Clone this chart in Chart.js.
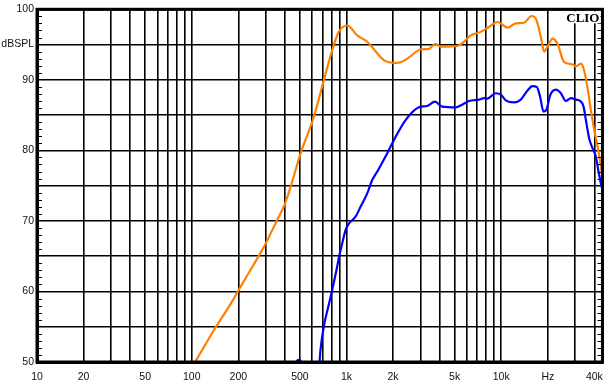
<!DOCTYPE html>
<html>
<head>
<meta charset="utf-8">
<script src="https://cdn.jsdelivr.net/npm/chart.js@4"></script>
<style>
  html, body { margin: 0; padding: 0; background: #fff; }
  #wrap { width: 612px; height: 389px; position: relative; }
</style>
</head>
<body>
<div id="wrap"><canvas id="resp"></canvas></div>
<script>
// orange trace (Hz / dBSPL)
const orangeHz = [100, 105, 138, 178, 201, 239, 292, 356, 403, 456, 500, 614, 713, 808, 891, 1011, 1172, 1361, 1743, 2075, 2238, 2471, 3013, 3412, 3767, 4057, 5200, 5739, 6350, 7365, 8337, 9443, 9931, 10965, 12417, 14060, 15680, 16710, 18020, 18930, 19900, 21450, 23100, 25500, 28900, 30350, 32700, 34050, 36140, 37950, 39900, 41970, 44060, 45400];
const orangeDb = [49.3, 50.0, 54.4, 58.2, 60.2, 63.0, 66.3, 70.1, 72.6, 76.3, 79.3, 84.7, 89.9, 94.2, 96.8, 97.7, 96.3, 95.4, 92.8, 92.4, 92.5, 93.0, 94.3, 94.4, 95.1, 94.7, 94.8, 95.4, 96.3, 96.8, 97.5, 98.2, 98.0, 97.4, 98.0, 98.1, 99.05, 98.7, 96.1, 94.0, 94.7, 95.85, 95.1, 92.5, 92.2, 91.9, 92.3, 91.6, 88.8, 85.7, 82.9, 80.5, 77.7, 75.8];

// blue trace
const blueHz = [440, 480, 495, 515, 560, 620, 669, 679, 713, 762, 808, 861, 901, 938, 986, 1035, 1144, 1233, 1362, 1466, 1581, 1834, 2075, 2409, 2939, 3327, 3730, 4160, 5080, 5610, 6190, 7180, 7740, 8140, 9210, 9930, 10690, 12100, 13370, 14790, 15920, 16980, 17830, 18750, 19630, 20700, 22540, 24280, 26140, 28180, 30350, 32360, 34040, 35240, 37000, 38920, 40900, 42360, 44060, 45190];
const blueDb = [47.5, 50.2, 50.3, 49.8, 47, 46, 49.9, 51.7, 55.0, 57.8, 60.2, 63.0, 65.2, 66.8, 68.7, 69.6, 70.6, 72.0, 73.9, 75.8, 77.0, 79.6, 81.9, 84.3, 86.1, 86.3, 86.9, 86.2, 86.1, 86.5, 87.0, 87.2, 87.4, 87.35, 88.1, 87.9, 87.1, 86.8, 87.2, 88.5, 89.1, 89.0, 87.6, 85.5, 85.8, 87.8, 88.6, 88.1, 87.0, 87.4, 87.2, 87.0, 86.2, 84.3, 81.7, 80.3, 79.1, 77.2, 75.3, 74.4];

// axis ticks
const xGrid = [10, 20, 30, 40, 50, 60, 70, 80, 90, 100, 200, 300, 400, 500, 600, 700, 800, 900,
  1000, 2000, 3000, 4000, 5000, 6000, 7000, 8000, 9000, 10000, 20000, 30000, 40000];
const xLabels = { 10: "10", 20: "20", 50: "50", 100: "100", 200: "200", 500: "500", 1000: "1k",
  2000: "2k", 5000: "5k", 10000: "10k", 20000: "Hz", 40000: "40k" };
const yLabels = { 100: "100", 95: "dBSPL", 90: "90", 80: "80", 70: "70", 60: "60", 50: "50" };

const pts = (xs, ys) => xs.map((x, i) => ({ x: x, y: ys[i] }));

const frame = {
  id: "frame",
  afterDatasetsDraw(chart) {
    const { ctx, chartArea: a, scales } = chart;
    ctx.save();
    ctx.strokeStyle = "#000";
    // minor ticks, 1 dB
    ctx.lineWidth = 1;
    for (let v = 51; v < 100; v++) {
      if (v % 5 === 0) continue;
      const y = Math.round(scales.y.getPixelForValue(v)) + 0.5;
      ctx.beginPath();
      ctx.moveTo(a.left, y); ctx.lineTo(a.left + 5, y);
      ctx.moveTo(a.right, y); ctx.lineTo(a.right - 5, y);
      ctx.stroke();
    }
    ctx.lineWidth = 3;
    ctx.strokeRect(a.left, a.top, a.right - a.left, a.bottom - a.top);
    // CLIO tag
    ctx.font = "bold 13px 'Liberation Serif'";
    ctx.textAlign = "right";
    ctx.textBaseline = "top";
    const w = ctx.measureText("CLIO").width;
    ctx.fillStyle = "#fff";
    ctx.fillRect(a.right - w - 5, a.top + 2, w + 3, 12);
    ctx.fillStyle = "#000";
    ctx.fillText("CLIO", a.right - 3, a.top + 3);
    ctx.restore();
  }
};

new Chart(document.getElementById("resp"), {
  type: "line",
  data: {
    datasets: [
      { data: pts(orangeHz, orangeDb), borderColor: "#ff8000", borderWidth: 2.2, pointRadius: 0, cubicInterpolationMode: "monotone", clip: 0 },
      { data: pts(blueHz, blueDb), borderColor: "#0000ff", borderWidth: 2.2, pointRadius: 0, cubicInterpolationMode: "monotone", clip: 0 }
    ]
  },
  options: {
    responsive: true,
    maintainAspectRatio: false,
    animation: false,
    layout: { padding: { top: 9, right: 9, left: 0, bottom: 0 } },
    plugins: { legend: { display: false }, tooltip: { enabled: false } },
    scales: {
      x: {
        type: "logarithmic",
        min: 10,
        max: 45100,
        afterBuildTicks: s => { s.ticks = xGrid.map(v => ({ value: v })); },
        afterFit: s => { s.height = 27; },
        grid: { color: "#000", lineWidth: 1.6, drawTicks: false },
        border: { color: "#000", width: 3 },
        ticks: {
          autoSkip: false,
          maxRotation: 0,
          padding: 9,
          color: "#111",
          font: { family: "'Liberation Sans', Arial", size: 10.5 },
          callback: v => xLabels[v] || ""
        }
      },
      y: {
        min: 50,
        max: 100,
        afterFit: s => { s.width = 37; },
        grid: { color: "#000", lineWidth: 1.6, drawTicks: false },
        border: { color: "#000", width: 3 },
        ticks: {
          stepSize: 5,
          padding: 3,
          color: "#111",
          font: { family: "'Liberation Sans', Arial", size: 10.5 },
          callback: v => yLabels[v] || ""
        }
      }
    }
  },
  plugins: [frame]
});
</script>
</body>
</html>
